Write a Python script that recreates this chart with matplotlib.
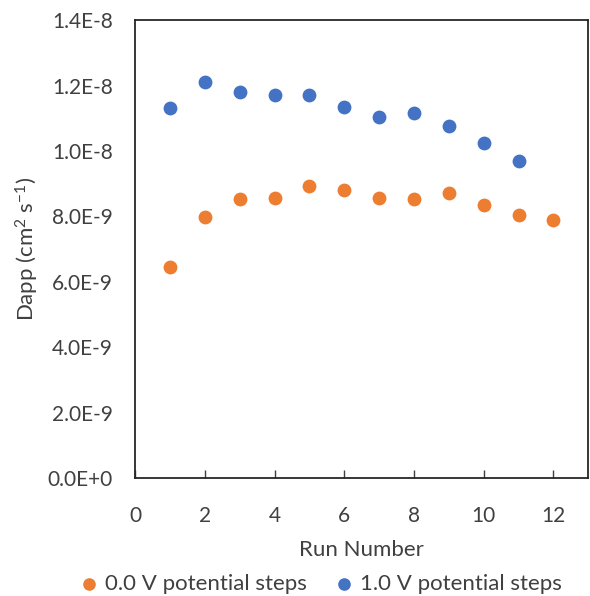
import numpy as np
import matplotlib.pyplot as plt
from matplotlib.ticker import FuncFormatter, MultipleLocator

plt.rcParams['font.family'] = ['Lato', 'DejaVu Sans']
plt.rcParams['mathtext.default'] = 'regular'

runs_0v = [1, 2, 3, 4, 5, 6, 7, 8, 9, 10, 11, 12]
dapp_0v = [6.44e-9, 7.97e-9, 8.52e-9, 8.56e-9, 8.94e-9, 8.80e-9,
           8.56e-9, 8.52e-9, 8.72e-9, 8.36e-9, 8.05e-9, 7.89e-9]

runs_1v = [1, 2, 3, 4, 5, 6, 7, 8, 9, 10, 11]
dapp_1v = [1.131e-8, 1.211e-8, 1.181e-8, 1.172e-8, 1.172e-8, 1.135e-8,
           1.103e-8, 1.115e-8, 1.076e-8, 1.024e-8, 9.70e-9]


def excel_sci(v, pos):
    # Excel style scientific labels: 1.4E-8, 0.0E+0
    mant, exp = f"{v:.1E}".split("E")
    return f"{mant}E{exp[0]}{int(exp[1:])}"


fig = plt.figure(figsize=(5.9, 5.96), dpi=100)
ax = fig.add_axes([0.229, 0.198, 0.768, 0.768])

ax.scatter(runs_0v, dapp_0v, s=80, color='#ED7D31', label='0.0 V potential steps', zorder=3)
ax.scatter(runs_1v, dapp_1v, s=80, color='#4472C4', label='1.0 V potential steps', zorder=3)

ax.set_xlim(0, 13)
ax.set_ylim(0, 1.4e-8)
ax.xaxis.set_major_locator(MultipleLocator(2))
ax.yaxis.set_major_locator(MultipleLocator(2e-9))
ax.yaxis.set_major_formatter(FuncFormatter(excel_sci))

ax.tick_params(axis='x', direction='in', length=6, width=1, labelsize=15, pad=20, colors='#404040')
ax.tick_params(axis='y', length=0, labelsize=15, pad=16, colors='#404040')

for sp in ax.spines.values():
    sp.set_color('#262626')
    sp.set_linewidth(1.3)

ax.set_xlabel('Run Number', fontsize=16, color='#404040', labelpad=10)
ax.set_ylabel('Dapp (cm$^2$ s$^{-1}$)', fontsize=16, color='#404040', labelpad=5)

fig.legend(loc='lower center', bbox_to_anchor=(0.545, -0.03), ncol=2, frameon=False,
           fontsize=16, handlelength=0.7, handletextpad=0.35, columnspacing=1.35,
           markerscale=0.9, labelcolor='#404040')

fig.savefig('out.png', dpi=100)
